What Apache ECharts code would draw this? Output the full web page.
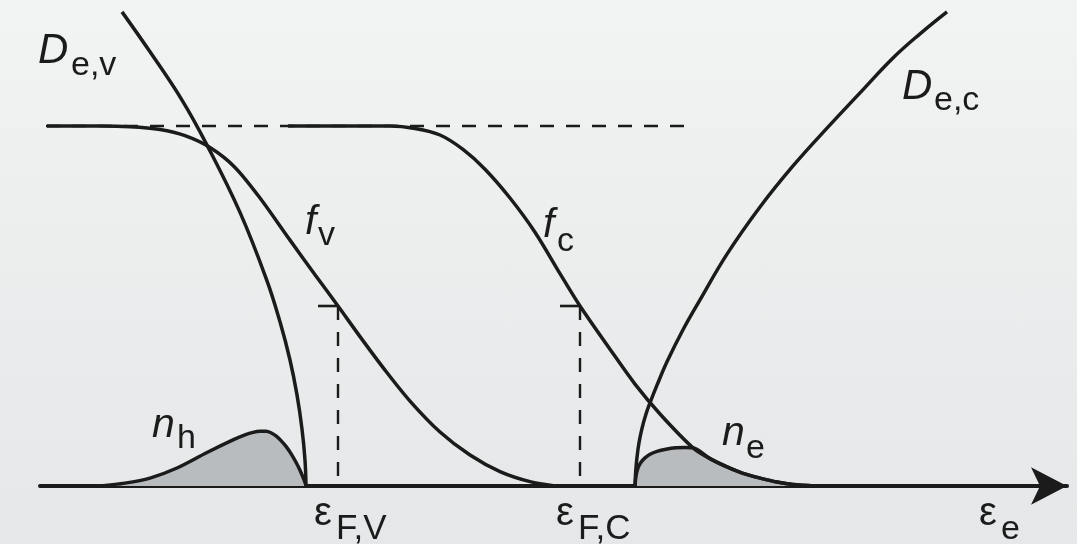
<!DOCTYPE html>
<html>
<head>
<meta charset="utf-8">
<title>Band occupancy</title>
<script src="https://cdn.jsdelivr.net/npm/echarts@6/dist/echarts.min.js"></script>
<style>
  html, body { margin: 0; padding: 0; }
  #chart {
    width: 1077px; height: 544px;
    background: linear-gradient(to bottom, #f2f3f3 0%, #e5e7e8 100%);
  }
</style>
</head>
<body>
<div id="chart"></div>
<script>
// Energy (arbitrary units) runs along the horizontal axis. Occupation f and the
// densities D, n share one vertical scale on which f = 1 means fully occupied.

// Quasi-Fermi levels: valence (F,V) and conduction (F,C)
const fermiLevels = [2.98, 5.40];
// Full-occupation reference line
const unityLine = [[-0.2, 1], [6.5, 1]];

// Occupation functions
const fValence = [
  [0.07, 1], [0.6, 1], [0.9, 0.998], [1.2, 0.99], [1.45, 0.973], [1.7, 0.94],
  [1.95, 0.885], [2.2, 0.8], [2.5, 0.683], [2.75, 0.587], [2.98, 0.5], [3.2, 0.415],
  [3.45, 0.322], [3.7, 0.236], [4.0, 0.15], [4.3, 0.086], [4.6, 0.04], [4.9, 0.012],
  [5.15, 0]
];
const fConduction = [
  [2.48, 1], [3.5, 1], [3.75, 0.993], [4.0, 0.975], [4.23, 0.935], [4.45, 0.88],
  [4.7, 0.8], [4.95, 0.705], [5.2, 0.59], [5.4, 0.5], [5.7, 0.38], [5.95, 0.283],
  [6.2, 0.2], [6.53, 0.106], [6.7, 0.076], [6.87, 0.053], [7.03, 0.035], [7.2, 0.022],
  [7.37, 0.011], [7.53, 0.004], [7.75, 0]
];

// Densities of states
const dValence = [
  [0.82, 1.317], [1.1, 1.206], [1.42, 1.072], [1.67, 0.947], [2.0, 0.76],
  [2.27, 0.57], [2.4, 0.456], [2.5, 0.35], [2.57, 0.253], [2.62, 0.158],
  [2.65, 0.072], [2.66, 0]
];
const dConduction = [
  [5.95, 0], [5.957, 0.04], [5.97, 0.08], [5.99, 0.12], [6.02, 0.16], [6.06, 0.2],
  [6.1, 0.231], [6.17, 0.28], [6.27, 0.345], [6.43, 0.434], [6.6, 0.517], [6.87, 0.644],
  [7.2, 0.775], [7.53, 0.889], [7.87, 0.994], [8.2, 1.092], [8.53, 1.189], [8.8, 1.256],
  [9.07, 1.317]
];

// Carrier distributions (holes in the valence band, electrons in the conduction band)
const nHoles = [
  [0.6, 0], [0.85, 0.008], [1.1, 0.022], [1.37, 0.05], [1.67, 0.093], [1.93, 0.128],
  [2.05, 0.142], [2.13, 0.149], [2.2, 0.152], [2.26, 0.152], [2.31, 0.148],
  [2.36, 0.139], [2.41, 0.126], [2.46, 0.11], [2.51, 0.09], [2.56, 0.066],
  [2.6, 0.044], [2.63, 0.024], [2.65, 0.01], [2.66, 0]
];
const nElectrons = [
  [5.95, 0], [5.96, 0.028], [5.98, 0.05], [6.01, 0.066], [6.05, 0.078], [6.1, 0.088],
  [6.17, 0.096], [6.26, 0.102], [6.36, 0.106], [6.45, 0.107], [6.53, 0.106], [6.7, 0.076],
  [6.87, 0.053], [7.03, 0.035], [7.2, 0.022], [7.37, 0.011], [7.53, 0.004], [7.75, 0]
];

const ink = '#1b1b1b';
const fillGray = '#b9bcbf';
const labelFont = '"Liberation Sans", Arial, Helvetica, sans-serif';

function curve(name, data, extra) {
  return Object.assign({
    name, type: 'line', data,
    smooth: 0.3,
    symbol: 'none', clip: false, silent: true, z: 3,
    lineStyle: { color: ink, width: 3.5, join: 'round' }
  }, extra || {});
}

function segment(name, data, width, dashed) {
  return {
    name, type: 'line', data, symbol: 'none', clip: false, silent: true, z: 2,
    lineStyle: { color: ink, width, type: dashed ? [14, 12] : 'solid', cap: 'butt' }
  };
}

const series = [
  curve('n_h', nHoles, { z: 2, areaStyle: { color: fillGray, opacity: 1 } }),
  curve('n_e', nElectrons, { z: 2, areaStyle: { color: fillGray, opacity: 1 } }),
  segment('f = 1', unityLine, 2.4, true),
  curve('f_v', fValence),
  curve('f_c', fConduction),
  curve('D_e,v', dValence, { smooth: 0.4 }),
  curve('D_e,c', dConduction, { smooth: 0.4 })
];

fermiLevels.forEach(function (ef, i) {
  series.push(segment('tick ' + i, [[ef - 0.2, 0.5], [ef, 0.5]], 2.6, false));
  series.push(segment('level ' + i, [[ef, 0.5], [ef, 0.005]], 2.4, true));
});

const chart = echarts.init(document.getElementById('chart'), null, { renderer: 'canvas' });

chart.setOption({
  animation: false,
  grid: { left: 40, right: 10, top: 0, bottom: 58 },
  xAxis: {
    type: 'value', min: 0, max: 10.27,
    axisLine: {
      show: true, onZero: true,
      symbol: ['none', 'arrow'], symbolSize: [28, 36],
      lineStyle: { color: ink, width: 4 }
    },
    axisTick: { show: false }, axisLabel: { show: false }, splitLine: { show: false }
  },
  yAxis: { type: 'value', min: 0, max: 1.35, show: false },
  series: series
});

// Text labels: main symbol plus its subscript, placed by alphabetic baseline
function txt(x, baseline, str, size, italic) {
  return {
    type: 'text', x: x, y: baseline - 0.85 * size, silent: true, z: 10,
    style: {
      text: str, fill: ink, fontSize: size, fontFamily: labelFont,
      fontStyle: italic ? 'italic' : 'normal', verticalAlign: 'top', align: 'left'
    }
  };
}

const graphics = [
  txt(38, 66, 'D', 42, true), txt(71, 78, 'e,v', 34, false),
  txt(902, 102, 'D', 42, true), txt(934, 113, 'e,c', 34, false),
  txt(305, 237, 'f', 41, true), txt(318, 248, 'v', 34, false),
  txt(543, 240, 'f', 41, true), txt(557, 254, 'c', 34, false),
  txt(152, 440, 'n', 41, true), txt(177, 451, 'h', 34, false),
  txt(722, 448, 'n', 41, true), txt(746, 461, 'e', 34, false)
];

// Energy labels under the axis, aligned to the quasi-Fermi levels
const levelSubs = ['F,V', 'F,C'];
fermiLevels.forEach(function (ef, i) {
  const p = chart.convertToPixel({ gridIndex: 0 }, [ef, 0]);
  graphics.push(txt(p[0] - 24, 528, 'ε', 40, false));
  graphics.push(txt(p[0] - 2, 542, levelSubs[i], 35, false));
});
graphics.push(txt(979, 528, 'ε', 40, false));
graphics.push(txt(1001, 542, 'e', 34, false));

chart.setOption({ graphic: graphics });
</script>
</body>
</html>
